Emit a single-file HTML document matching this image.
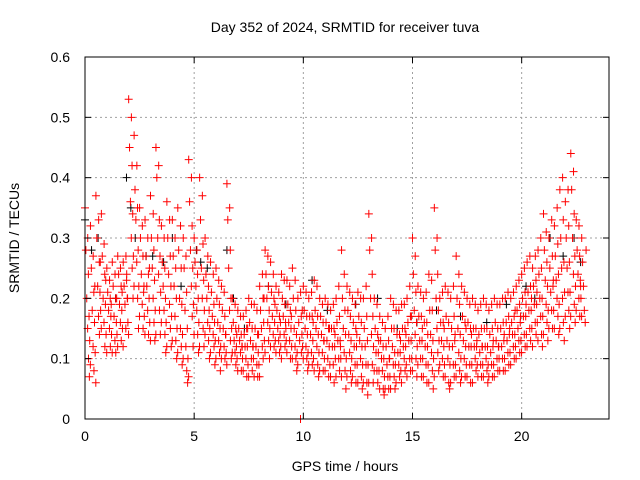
<!DOCTYPE html>
<html><head><meta charset="utf-8"><style>
body{margin:0;background:#fff}
svg{display:block;font-family:"Liberation Sans",sans-serif}
</style></head><body>
<svg id="chart" width="640" height="480" viewBox="0 0 640 480">
<rect width="640" height="480" fill="#fff"/>
<text x="345" y="32" font-size="14" text-anchor="middle">Day 352 of 2024, SRMTID for receiver tuva</text>
<g id="grid"></g>
<g id="marks"></g>
<rect x="85" y="57" width="524" height="362" fill="none" stroke="#000" stroke-width="1"/>
<g id="ticks"></g>
<text x="345" y="471" font-size="14" text-anchor="middle">GPS time / hours</text>
<text x="19" y="238" font-size="14" text-anchor="middle" transform="rotate(-90 19 238)">SRMTID / TECUs</text>
</svg>
<script>
const hours=[0,0.25,0.5,0.75,1,1.25,1.5,1.75,2,2.25,2.5,2.75,3,3.25,3.5,3.75,4,4.25,4.5,4.75,5,5.25,5.5,5.75,6,6.25,6.5,6.75,7,7.25,7.5,7.75,8,8.25,8.5,8.75,9,9.25,9.5,9.75,10,10.25,10.5,10.75,11,11.25,11.5,11.75,12,12.25,12.5,12.75,13,13.25,13.5,13.75,14,14.25,14.5,14.75,15,15.25,15.5,15.75,16,16.25,16.5,16.75,17,17.25,17.5,17.75,18,18.25,18.5,18.75,19,19.25,19.5,19.75,20,20.25,20.5,20.75,21,21.25,21.5,21.75,22,22.25,22.5,22.75];
const values=[
[.35,.28,.2,.15,.1,.07],[.32,.25,.18,.12,.08,.22],[.37,.3,.22,.17,.14,.26],[.34,.27,.2,.16,.12,.23],
[.25,.21,.18,.15,.12,.19],[.26,.22,.17,.13,.11,.2],[.27,.24,.19,.16,.13,.21],[.26,.22,.19,.15,.24,.2],
[.53,.45,.36,.3,.25,.2],[.47,.38,.33,.26,.2,.15],[.35,.3,.24,.19,.15,.22],[.33,.27,.22,.18,.14,.25],
[.37,.3,.25,.2,.16,.13],[.45,.4,.3,.24,.18,.14],[.32,.26,.22,.18,.14,.11],[.36,.3,.24,.19,.15,.12],
[.33,.27,.22,.17,.13,.1],[.35,.28,.2,.15,.12,.09],[.3,.25,.18,.12,.08,.06],[.43,.36,.28,.22,.17,.12],
[.3,.26,.22,.18,.14,.11],[.4,.33,.25,.2,.15,.12],[.3,.24,.2,.16,.13,.1],[.26,.21,.17,.14,.12,.09],
[.25,.2,.16,.13,.11,.08],[.22,.18,.15,.12,.1,.14],[.39,.33,.25,.18,.13,.1],[.2,.16,.13,.11,.09,.14],
[.18,.15,.13,.11,.08,.12],[.17,.14,.12,.1,.07,.15],[.2,.16,.13,.1,.08,.12],[.19,.15,.12,.09,.07,.14],
[.22,.18,.15,.12,.1,.2],[.28,.24,.2,.16,.13,.1],[.26,.21,.17,.14,.12,.19],[.22,.18,.15,.13,.11,.16],
[.24,.2,.17,.14,.12,.15],[.23,.19,.16,.13,.1,.17],[.25,.2,.15,.12,.1,.08],[.2,.16,.13,0,.11,.18],
[.22,.18,.15,.12,.1,.08],[.2,.17,.14,.11,.09,.16],[.23,.18,.15,.12,.09,.07],[.2,.17,.14,.11,.08,.13],
[.2,.16,.13,.1,.07,.15],[.18,.15,.12,.09,.06,.14],[.2,.16,.13,.1,.08,.12],[.28,.2,.15,.11,.08,.05],
[.22,.18,.14,.11,.08,.06],[.2,.16,.12,.09,.06,.14],[.21,.17,.13,.1,.07,.05],[.2,.15,.12,.09,.06,.04],
[.34,.28,.2,.14,.09,.06],[.2,.15,.11,.08,.06,.13],[.17,.13,.1,.08,.05,.04],[.15,.12,.09,.07,.05,.1],
[.2,.15,.12,.09,.07,.05],[.18,.14,.11,.09,.07,.13],[.19,.15,.12,.1,.08,.14],[.2,.16,.13,.1,.08,.17],
[.3,.24,.18,.14,.1,.07],[.22,.17,.13,.1,.07,.15],[.2,.16,.12,.09,.06,.14],[.24,.18,.14,.11,.08,.05],
[.35,.28,.2,.15,.11,.08],[.2,.16,.13,.1,.07,.15],[.22,.17,.13,.1,.06,.05],[.2,.15,.12,.09,.07,.14],
[.27,.2,.15,.11,.08,.06],[.22,.17,.13,.1,.07,.15],[.2,.16,.12,.09,.06,.14],[.2,.15,.12,.1,.08,.13],
[.18,.14,.11,.09,.07,.12],[.2,.15,.12,.1,.08,.06],[.18,.14,.11,.09,.07,.13],[.2,.16,.13,.1,.08,.12],
[.19,.15,.12,.1,.08,.14],[.2,.16,.13,.11,.09,.15],[.2,.16,.14,.12,.1,.18],[.22,.18,.15,.13,.11,.17],
[.24,.2,.17,.14,.12,.19],[.26,.21,.18,.15,.13,.2],[.25,.22,.19,.16,.14,.21],[.28,.24,.2,.17,.14,.12],
[.34,.28,.23,.19,.16,.13],[.3,.25,.21,.18,.15,.23],[.32,.27,.23,.2,.17,.14],[.38,.3,.25,.2,.16,.13],
[.36,.3,.25,.21,.18,.15],[.44,.38,.3,.24,.19,.16],[.33,.28,.24,.2,.17,.22],[.3,.26,.22,.18,.16,.28]];
const hours2=[0.125,0.375,0.625,0.875,1.125,1.375,1.625,1.875,2.125,2.375,2.625,2.875,3.125,3.375,3.625,3.875,4.125,4.375,4.625,4.875,5.125,5.375,5.625,5.875,6.125,6.375,6.625,6.875,7.125,7.375,7.625,7.875,8.125,8.375,8.625,8.875,9.125,9.375,9.625,9.875,10.125,10.375,10.625,10.875,11.125,11.375,11.625,11.875,12.125,12.375,12.625,12.875,13.125,13.375,13.625,13.875,14.125,14.375,14.625,14.875,15.125,15.375,15.625,15.875,16.125,16.375,16.625,16.875,17.125,17.375,17.625,17.875,18.125,18.375,18.625,18.875,19.125,19.375,19.625,19.875,20.125,20.375,20.625,20.875,21.125,21.375,21.625,21.875,22.125,22.375,22.625];
const values2=[
[.3,.24,.17,.13,.09],[.27,.21,.16,.11,.06],[.33,.26,.21,.18,.15],[.29,.24,.19,.14,.11],
[.23,.2,.17,.14,.11],[.24,.2,.16,.14,.12],[.25,.22,.18,.15,.12],[.27,.23,.2,.16,.14],
[.5,.42,.34,.27,.22],[.42,.35,.28,.22,.17],[.32,.27,.21,.17,.14],[.3,.24,.2,.16,.13],
[.34,.28,.23,.18,.14],[.42,.33,.27,.21,.16],[.3,.25,.2,.16,.12],[.33,.27,.22,.17,.13],
[.3,.25,.2,.15,.11],[.32,.25,.19,.14,.1],[.27,.21,.15,.1,.07],[.4,.32,.25,.19,.14],
[.28,.24,.2,.16,.12],[.37,.29,.23,.18,.14],[.27,.22,.18,.15,.11],[.24,.19,.16,.13,.1],
[.23,.19,.15,.12,.1],[.21,.17,.14,.11,.09],[.35,.28,.2,.15,.11],[.19,.15,.12,.1,.08],
[.17,.14,.12,.1,.08],[.18,.15,.12,.09,.07],[.19,.15,.12,.1,.07],[.18,.14,.11,.09,.07],
[.24,.2,.16,.13,.11],[.27,.22,.18,.15,.12],[.24,.2,.16,.13,.11],[.21,.17,.14,.12,.1],
[.23,.19,.16,.13,.11],[.22,.18,.15,.12,.1],[.23,.18,.14,.11,.09],[.21,.17,.14,.12,.1],
[.21,.17,.14,.11,.09],[.21,.17,.13,.1,.08],[.22,.17,.14,.11,.08],[.19,.16,.13,.1,.08],
[.19,.15,.12,.09,.07],[.19,.15,.12,.1,.07],[.22,.17,.13,.1,.07],[.24,.18,.14,.1,.07],
[.21,.17,.13,.1,.07],[.19,.15,.12,.09,.06],[.2,.16,.12,.09,.06],[.22,.17,.13,.09,.06],
[.3,.24,.17,.12,.08],[.19,.14,.11,.08,.05],[.16,.12,.1,.07,.05],[.17,.13,.1,.07,.05],
[.19,.15,.11,.09,.06],[.18,.14,.11,.08,.06],[.19,.15,.12,.09,.07],[.22,.17,.13,.1,.08],
[.27,.21,.16,.12,.09],[.21,.17,.13,.1,.07],[.21,.16,.12,.09,.06],[.23,.18,.13,.1,.07],
[.3,.24,.18,.13,.09],[.21,.16,.12,.09,.07],[.21,.16,.12,.09,.06],[.22,.17,.13,.09,.07],
[.24,.19,.14,.1,.07],[.21,.16,.12,.09,.07],[.19,.15,.12,.09,.06],[.19,.15,.12,.09,.07],
[.19,.15,.12,.09,.07],[.19,.15,.12,.09,.07],[.19,.15,.12,.09,.07],[.19,.15,.12,.1,.08],
[.2,.16,.13,.1,.08],[.21,.17,.14,.11,.09],[.21,.17,.14,.12,.1],[.23,.19,.16,.13,.11],
[.25,.21,.17,.14,.12],[.27,.22,.18,.15,.12],[.27,.23,.19,.16,.13],[.3,.25,.2,.17,.14],
[.31,.26,.22,.18,.15],[.33,.27,.22,.18,.15],[.35,.29,.24,.19,.15],[.4,.33,.26,.21,.17],
[.38,.32,.26,.21,.17],[.41,.34,.27,.22,.18],[.32,.27,.23,.2,.17]];
const blackHours=[0,0.3,0.6,1.4,1.9,2.1,2.3,2.8,3.1,3.6,4.0,4.4,5.1,5.3,5.6,6.5,6.8,7.3,8.4,9.2,10.4,11.1,12.4,13.4,14.3,15.2,16.1,17.2,18.4,19.3,20.2,20.6,21.3,21.9,22.4,22.7];
const blackValues=[.33,.28,.3,.2,.4,.35,.3,.27,.27,.26,.3,.22,.28,.26,.25,.28,.2,.15,.22,.19,.23,.18,.19,.2,.15,.16,.18,.17,.16,.19,.22,.2,.3,.27,.3,.26];
const xTicks=[0,5,10,15,20];
const yTicks=[0,0.1,0.2,0.3,0.4,0.5,0.6];
const yLabels=["0","0.1","0.2","0.3","0.4","0.5","0.6"];
const X0=85,X1=609,Y0=419,Y1=57,XMAX=24,YMAX=0.6;
const sx=v=>X0+v/XMAX*(X1-X0);
const sy=v=>Y0-v/YMAX*(Y0-Y1);
const NS="http://www.w3.org/2000/svg";
const grid=document.getElementById('grid'),ticks=document.getElementById('ticks'),marks=document.getElementById('marks');
function mk(tag,attrs,parent){const e=document.createElementNS(NS,tag);for(const k in attrs)e.setAttribute(k,attrs[k]);parent.appendChild(e);return e;}
xTicks.forEach(t=>{
  const x=sx(t);
  if(t>0){const g=mk('line',{x1:x,x2:x,y1:Y1,y2:Y0,stroke:'#a0a0a0','stroke-dasharray':'2,3'},grid);
  
  }
  mk('line',{x1:x,x2:x,y1:Y0,y2:Y0-6,stroke:'#000'},ticks);
  mk('line',{x1:x,x2:x,y1:Y1,y2:Y1+6,stroke:'#000'},ticks);
  const l=mk('text',{x:x,y:Y0+22,'font-size':14,'text-anchor':'middle'},ticks);l.textContent=t;
  
  
});
yTicks.forEach((t,i)=>{
  const y=sy(t);
  if(t>0&&t<YMAX){const g=mk('line',{x1:X0,x2:X1,y1:y,y2:y,stroke:'#a0a0a0','stroke-dasharray':'2,3'},grid);
  
  }
  mk('line',{x1:X0,x2:X0+6,y1:y,y2:y,stroke:'#000'},ticks);
  mk('line',{x1:X1,x2:X1-6,y1:y,y2:y,stroke:'#000'},ticks);
  const l=mk('text',{x:70,y:y+5,'font-size':14,'text-anchor':'end'},ticks);l.textContent=yLabels[i];
  
  
});
function plus(x,y,color,name){
  const p=mk('path',{d:`M${x-4},${y}h8M${x},${y-4}v8`,stroke:color,'stroke-width':1,fill:'none'},marks);
  
  
}
blackHours.forEach((h,i)=>plus(sx(h),sy(blackValues[i]),'#000','black-point'));
hours.forEach((h,i)=>values[i].forEach((v,j)=>{
  plus(sx(h+j*0.04),sy(v),'#f00','red-point');
}));
hours2.forEach((h,i)=>values2[i].forEach((v,j)=>{
  plus(sx(h+j*0.03),sy(v),'#f00','red-point');
}));
</script>
</body></html>
